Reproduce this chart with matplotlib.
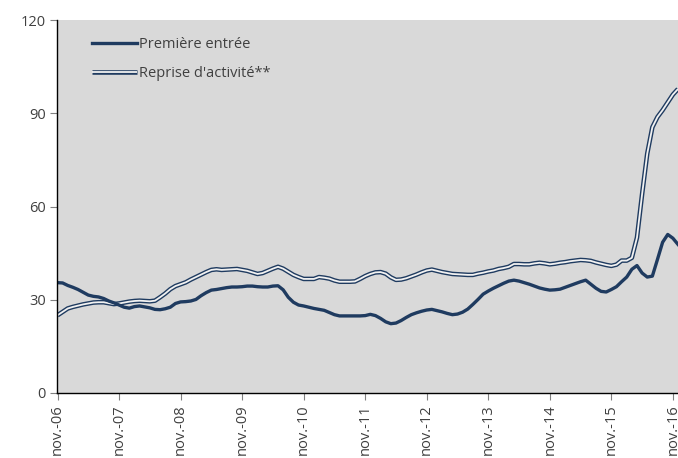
import matplotlib
matplotlib.use("Agg")
import matplotlib.pyplot as plt
import numpy as np

# Données mensuelles, de nov.-06 à déc.-16
premiere_entree = [
    35.5, 35.4, 34.6, 34.0, 33.3, 32.4, 31.5, 31.1, 30.9, 30.4, 29.6, 29.0,
    28.3, 27.6, 27.3, 27.8, 28.0, 27.7, 27.4, 26.9, 26.8, 27.1, 27.6, 28.8,
    29.3, 29.4, 29.6, 30.1, 31.3, 32.3, 33.1, 33.3, 33.6, 33.9, 34.1, 34.1,
    34.2, 34.4, 34.4, 34.2, 34.1, 34.1, 34.4, 34.5, 33.2, 30.8, 29.2, 28.3,
    28.0, 27.6, 27.2, 26.9, 26.6, 25.9, 25.2, 24.8, 24.8, 24.8, 24.8, 24.8,
    24.9, 25.3, 24.9, 24.0, 22.9, 22.3, 22.5, 23.3, 24.3, 25.2, 25.8, 26.3,
    26.7, 26.9, 26.5, 26.1, 25.6, 25.2, 25.4, 26.0, 27.0, 28.5, 30.1, 31.8,
    32.8, 33.7, 34.5, 35.3, 36.0, 36.3, 36.0, 35.5, 35.0, 34.4, 33.8, 33.4,
    33.1, 33.2, 33.4, 34.0, 34.6, 35.2, 35.8, 36.3, 35.0, 33.7, 32.7, 32.5,
    33.3, 34.2, 35.8, 37.3, 39.8, 41.0, 38.6, 37.3, 37.6, 43.0, 48.5, 51.0,
    49.8, 47.8,
]
reprise_activite = [
    25.0, 26.1, 27.2, 27.7, 28.1, 28.5, 28.8, 29.1, 29.2, 29.2, 28.9, 28.6,
    28.8, 29.1, 29.4, 29.6, 29.7, 29.6, 29.5, 29.7, 30.8, 32.0, 33.4, 34.4,
    35.0, 35.6, 36.5, 37.3, 38.1, 38.9, 39.6, 39.8, 39.6, 39.7, 39.8, 39.9,
    39.6, 39.3, 38.8, 38.3, 38.6, 39.3, 40.0, 40.6, 40.0, 39.0, 38.0, 37.3,
    36.7, 36.7, 36.7, 37.3, 37.1, 36.8, 36.2, 35.8, 35.8, 35.8, 35.9, 36.7,
    37.6, 38.3, 38.8, 38.9, 38.4, 37.2, 36.4, 36.5, 36.9, 37.5, 38.1, 38.8,
    39.4, 39.7, 39.3, 38.9, 38.6, 38.3, 38.2, 38.1, 38.0, 38.0, 38.4, 38.7,
    39.1, 39.4, 39.9, 40.2, 40.6, 41.5, 41.5, 41.4, 41.4, 41.7, 41.9, 41.7,
    41.4, 41.6, 41.9, 42.1, 42.4, 42.6, 42.8, 42.7, 42.5, 42.0, 41.6, 41.2,
    40.9, 41.3, 42.6, 42.6, 43.5, 50.0, 64.0, 77.0, 85.5, 88.8, 91.0, 93.5,
    96.0, 97.8,
]
annees = ["06", "07", "08", "09", "10", "11", "12", "13", "14", "15", "16"]
etiquettes_x = ["nov.-" + a for a in annees]
graduations_y = [0, 30, 60, 90, 120]

plt.rcParams["font.family"] = ["Open Sans", "DejaVu Sans"]
bleu = "#1f3b60"
gris_texte = "#404040"

fig = plt.figure(figsize=(6.78, 4.58), dpi=100)
ax = fig.add_axes([57 / 678, 65 / 458, 621 / 678, 373 / 458])
ax.set_facecolor("#d9d9d9")

mois = np.arange(len(premiere_entree))
# ligne double : trait foncé épais puis trait clair fin par-dessus
ra_ext, = ax.plot(mois, reprise_activite, color=bleu, lw=3.3, solid_capstyle="butt")
ra_int, = ax.plot(mois, reprise_activite, color="#f2f2f2", lw=1.3, solid_capstyle="butt")
pe, = ax.plot(mois, premiere_entree, color=bleu, lw=2.4)

ax.set_xlim(-0.1, 121.0)
ax.set_ylim(0, 120)
ax.set_yticks(graduations_y)
ax.set_xticks(np.arange(len(etiquettes_x)) * 12)
ax.set_xticklabels(etiquettes_x, rotation=90)

for cote in ["top", "right"]:
    ax.spines[cote].set_visible(False)
for cote in ["left", "bottom"]:
    ax.spines[cote].set_color("black")
    ax.spines[cote].set_linewidth(1.0)
ax.tick_params(axis="both", direction="out", length=5, width=0.8,
               color="#808080", labelsize=10.5, labelcolor=gris_texte, pad=3)

ax.legend([pe, (ra_ext, ra_int)], ["Première entrée", "Reprise d'activité**"],
          loc="upper left", bbox_to_anchor=(0.035, 0.99), frameon=False,
          handlelength=3.1, handletextpad=0.15, labelspacing=1.0,
          fontsize=10.5, labelcolor=gris_texte)

fig.savefig("out.png", dpi=100)
